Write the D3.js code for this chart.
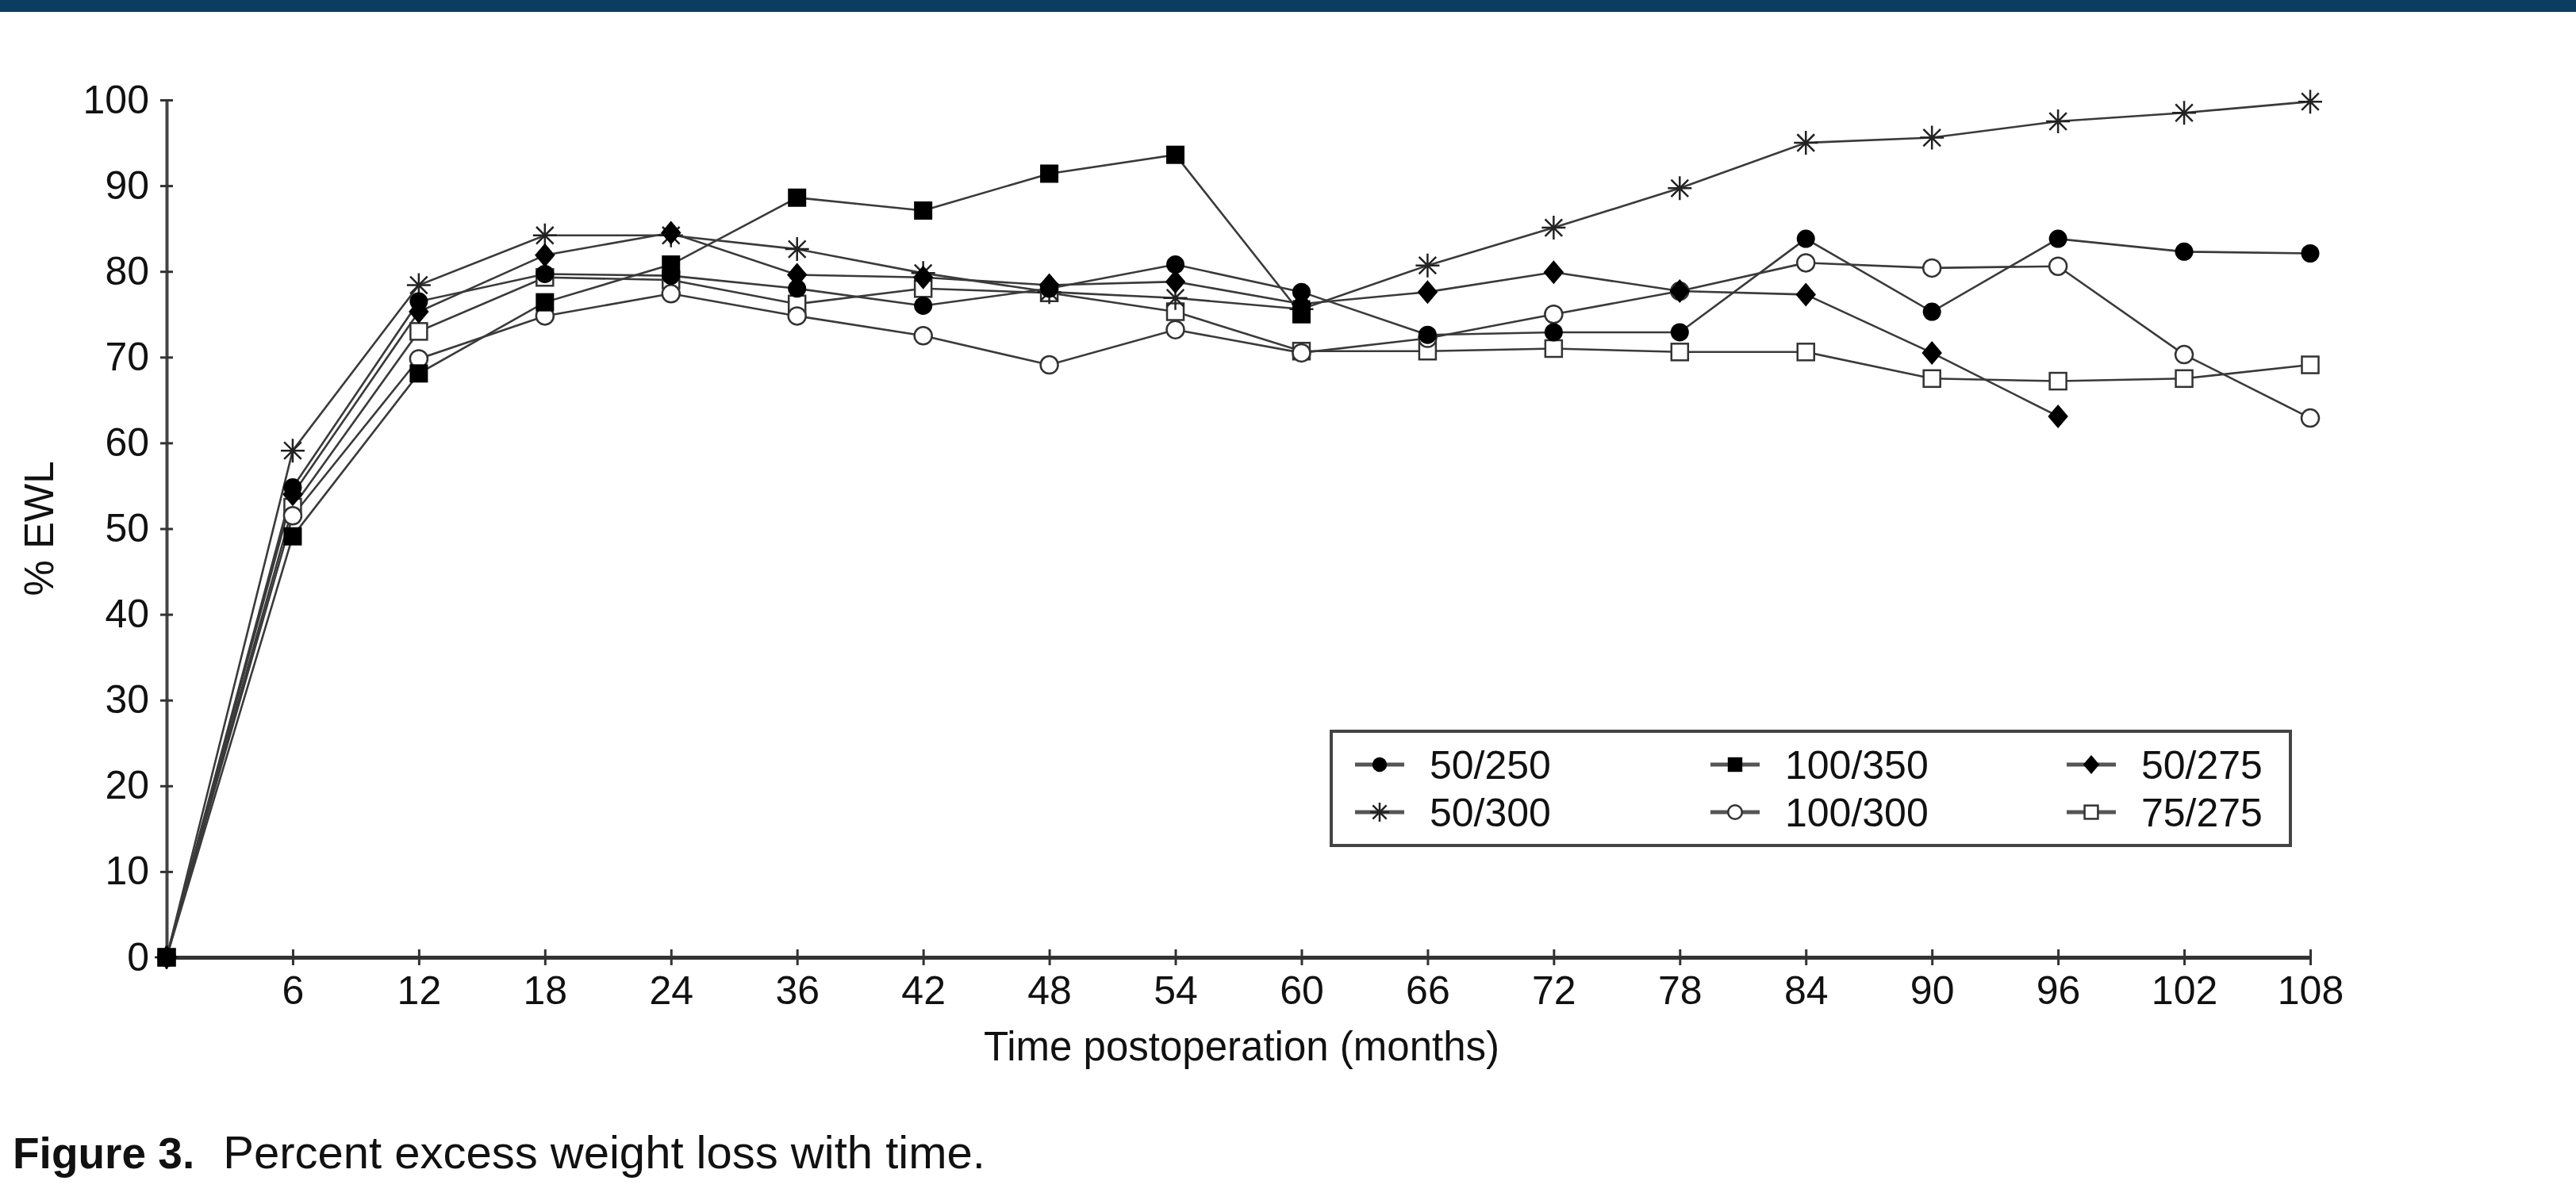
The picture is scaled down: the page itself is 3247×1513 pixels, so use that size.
<!DOCTYPE html>
<html>
<head>
<meta charset="utf-8">
<script src="https://cdn.jsdelivr.net/npm/d3@7"></script>
<style>
  html, body { margin: 0; padding: 0; background: #fff; }
  svg { display: block; }
  text { font-family: "Liberation Sans", Arial, Helvetica, sans-serif; fill: #111; }
</style>
</head>
<body>
<svg id="chart" width="3247" height="1513"></svg>
<script>
// ---- data ----
const months = [0, 6, 12, 18, 24, 36, 42, 48, 54, 60, 66, 72, 78, 84, 90, 96, 102, 108];
const yTicks = [0, 10, 20, 30, 40, 50, 60, 70, 80, 90, 100];
const seriesNames = ["50/250", "100/350", "50/275", "50/300", "100/300", "75/275"];
const s50_250  = [0, 54.8, 76.5, 79.7, 79.5, 78.0, 76.0, 78.0, 80.8, 77.6, 72.6, 72.9, 72.9, 83.8, 75.3, 83.8, 82.3, 82.1];
const s100_350 = [0, 49.1, 68.1, 76.4, 80.8, 88.6, 87.1, 91.4, 93.6, 75.0, null, null, null, null, null, null, null, null];
const s50_275  = [0, 54.0, 75.3, 81.9, 84.5, 79.6, 79.3, 78.4, 78.8, 76.2, 77.6, 79.9, 77.7, 77.3, 70.5, 63.1, null, null];
const s50_300  = [0, 59.1, 78.4, 84.2, 84.2, 82.6, 79.8, 77.6, 76.9, 75.6, 80.7, 85.1, 89.7, 95.0, 95.6, 97.5, 98.5, 99.8];
const s100_300 = [0, 51.5, 69.8, 74.8, 77.4, 74.8, 72.5, 69.1, 73.2, 70.5, 72.2, 75.0, 77.7, 81.0, 80.4, 80.6, 70.3, 62.9];
const s75_275  = [0, 52.5, 73.0, 79.3, 79.0, 76.2, 78.0, 77.5, 75.3, 70.7, 70.7, 71.0, 70.6, 70.6, 67.5, 67.2, 67.5, 69.1];
const seriesValues = [s50_250, s100_350, s50_275, s50_300, s100_300, s75_275];
const markerTypes = ["circle", "square", "diamond", "star", "ocircle", "osquare"];
const xTitle = "Time postoperation (months)";
const yTitle = "% EWL";
const captionBold = "Figure 3.";
const captionText = "Percent excess weight loss with time.";

// ---- layout ----
const svg = d3.select("#chart");
const W = 3247, H = 1513;
const L = 210, R = 2912, T = 126, B = 1207;

svg.append("rect").attr("width", W).attr("height", H).attr("fill", "#fff");
svg.append("rect").attr("x", 0).attr("y", 0).attr("width", W).attr("height", 15).attr("fill", "#0a3d5f");

const x = d3.scalePoint().domain(months).range([L, R]).padding(0);
const y = d3.scaleLinear().domain([0, 100]).range([B, T]);

// axes
const yAxis = d3.axisLeft(y).tickValues(yTicks).tickSizeInner(8).tickSizeOuter(0).tickPadding(14);
const gy = svg.append("g").attr("transform", `translate(${L},0)`).call(yAxis);
gy.select(".domain").attr("stroke", "#444").attr("stroke-width", 4);
gy.selectAll(".tick line").attr("x1", 8).attr("x2", -8).attr("stroke", "#333").attr("stroke-width", 3);
gy.selectAll(".tick text").attr("font-size", 50).attr("fill", "#111")
  .style("font-family", '"Liberation Sans", Arial, sans-serif');

const xAxis = d3.axisBottom(x).tickValues(months.slice(1)).tickSizeInner(10).tickSizeOuter(0).tickPadding(13);
const gx = svg.append("g").attr("transform", `translate(0,${B})`).call(xAxis);
gx.select(".domain").attr("stroke", "#333").attr("stroke-width", 5);
gx.selectAll(".tick line").attr("y1", -10).attr("y2", 10).attr("stroke", "#333").attr("stroke-width", 3);
gx.selectAll(".tick text").attr("font-size", 50).attr("fill", "#111")
  .style("font-family", '"Liberation Sans", Arial, sans-serif');

// axis titles
svg.append("text").attr("x", (L + R) / 2 + 4).attr("y", 1337).attr("text-anchor", "middle")
  .attr("font-size", 51).text(xTitle);
svg.append("text").attr("transform", `translate(67,${(T + B) / 2}) rotate(-90)`)
  .attr("text-anchor", "middle").attr("font-size", 51).text(yTitle);

// marker drawing
function drawMarker(g, type, cx, cy, s) {
  const k = s || 1;
  if (type === "circle") {
    g.append("circle").attr("cx", cx).attr("cy", cy).attr("r", 11.5 * k).attr("fill", "#000");
  } else if (type === "square") {
    g.append("rect").attr("x", cx - 11.5 * k).attr("y", cy - 11.5 * k).attr("width", 23 * k).attr("height", 23 * k).attr("fill", "#000");
  } else if (type === "diamond") {
    const r = 15 * k;
    g.append("path").attr("d", `M${cx},${cy - r}L${cx + r * 0.85},${cy}L${cx},${cy + r}L${cx - r * 0.85},${cy}Z`).attr("fill", "#000");
  } else if (type === "star") {
    const r = 15 * k;
    const d = r * 0.72;
    g.append("path").attr("d",
      `M${cx - r},${cy}L${cx + r},${cy}M${cx},${cy - r}L${cx},${cy + r}` +
      `M${cx - d},${cy - d}L${cx + d},${cy + d}M${cx - d},${cy + d}L${cx + d},${cy - d}`)
      .attr("stroke", "#222").attr("stroke-width", 2.5).attr("fill", "none");
  } else if (type === "ocircle") {
    g.append("circle").attr("cx", cx).attr("cy", cy).attr("r", 11 * k).attr("fill", "#fff")
      .attr("stroke", "#333").attr("stroke-width", 2.5);
  } else if (type === "osquare") {
    g.append("rect").attr("x", cx - 10.5 * k).attr("y", cy - 10.5 * k).attr("width", 21 * k).attr("height", 21 * k)
      .attr("fill", "#fff").attr("stroke", "#333").attr("stroke-width", 2.5);
  }
}

// lines
const line = d3.line().defined(d => d.v !== null).x(d => x(d.m)).y(d => y(d.v));
const gl = svg.append("g");
seriesValues.forEach((vals) => {
  const pts = months.map((m, i) => ({ m: m, v: vals[i] }));
  gl.append("path").attr("d", line(pts)).attr("fill", "none")
    .attr("stroke", "#3a3a3a").attr("stroke-width", 2.6);
});

// markers (open shapes first so filled ones sit on top, as in the original)
const gm = svg.append("g");
const drawOrder = [5, 4, 3, 2, 0, 1];
drawOrder.forEach((si) => {
  const vals = seriesValues[si];
  months.forEach((m, i) => {
    if (vals[i] === null) return;
    drawMarker(gm, markerTypes[si], x(m), y(vals[i]), 1);
  });
});

// legend
const lg = svg.append("g");
lg.append("rect").attr("x", 1678).attr("y", 922).attr("width", 1209).attr("height", 144)
  .attr("fill", "#fff").attr("stroke", "#444").attr("stroke-width", 4);
const colX = [1708, 2156, 2605];
const rowY = [964, 1024];
seriesNames.forEach((name, i) => {
  const cx = colX[i % 3], cy = rowY[Math.floor(i / 3)];
  lg.append("line").attr("x1", cx).attr("x2", cx + 62).attr("y1", cy).attr("y2", cy)
    .attr("stroke", "#555").attr("stroke-width", 5);
  drawMarker(lg, markerTypes[i], cx + 31, cy, 0.8);
  lg.append("text").attr("x", cx + 94).attr("y", cy + 18).attr("font-size", 50).text(name);
});

// caption
const cap = svg.append("text").attr("x", 16).attr("y", 1473).attr("font-size", 55);
cap.append("tspan").attr("font-weight", "bold").text(captionBold);
cap.append("tspan").attr("dx", 36).attr("font-size", 58).text(captionText);
</script>
</body>
</html>
